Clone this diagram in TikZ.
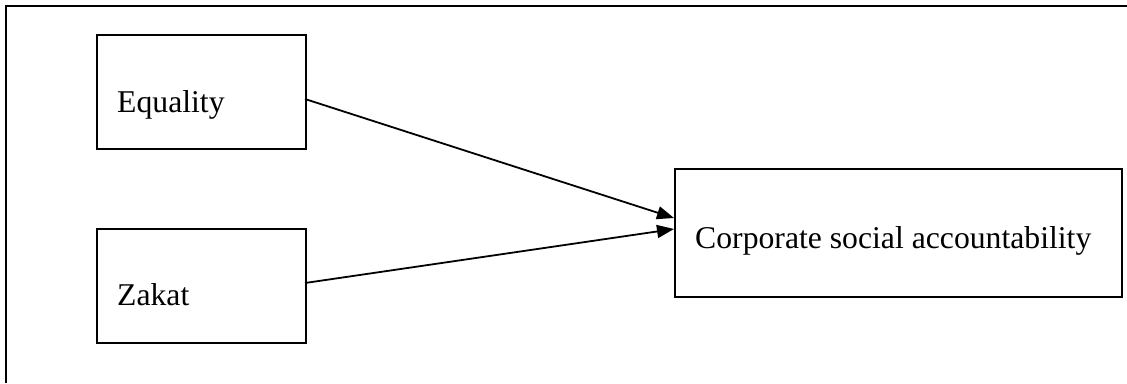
\documentclass[tikz,border=0pt]{standalone}
\usepackage{fontspec}
\setmainfont{Liberation Serif}
\usetikzlibrary{arrows.meta}
\begin{document}
\begin{tikzpicture}[x=1pt,y=-1pt,
  boxnode/.style={draw=black,line width=1.8pt,rectangle,inner sep=0pt,anchor=north west},
  lbl/.style={inner sep=0pt,anchor=base west,font=\fontsize{31.7}{36}\selectfont},
  conn/.style={line width=1.8pt,-{Triangle[length=17pt,width=13pt]}}]
\useasboundingbox (0,0) rectangle (1127,383);
\draw[line width=1.8pt] (6,383) -- (6,6) -- (1127,6);
\node[boxnode,minimum width=209pt,minimum height=114pt] (eq) at (96,34) {};
\node[lbl] (eqt) at (117,112.7) {Equality};
\node[boxnode,minimum width=209pt,minimum height=114pt] (zk) at (96,228) {};
\node[lbl] (zkt) at (117,305) {Zakat};
\node[boxnode,minimum width=447pt,minimum height=128pt] (csa) at (674,168) {};
\node[lbl] (csat) at (695,248) {Corporate social accountability};
\coordinate (eqo) at (305,99);
\coordinate (zko) at (305,283);
\coordinate (csai1) at (674,218);
\coordinate (csai2) at (674,229);
\draw[conn] (eqo) -- (csai1);
\draw[conn] (zko) -- (csai2);
\end{tikzpicture}
\end{document}
